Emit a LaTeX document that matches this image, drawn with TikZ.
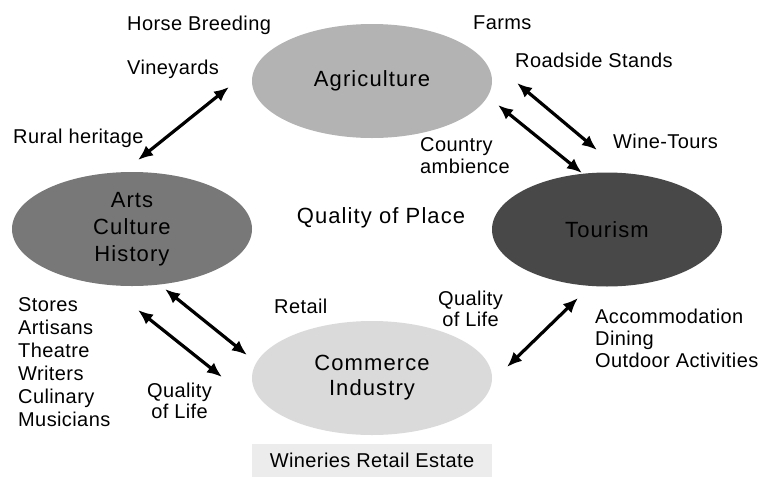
\documentclass[tikz,border=0pt]{standalone}
\usepackage{fontspec}
\setmainfont{Liberation Sans}[LetterSpace=2]
\newfontfamily\ellfont{Liberation Sans}[LetterSpace=5]
\usetikzlibrary{shapes.geometric,arrows.meta}
\definecolor{agrigray}{HTML}{B3B3B3}
\definecolor{artsgray}{HTML}{787878}
\definecolor{tourgray}{HTML}{484848}
\definecolor{commgray}{HTML}{DADADA}
\definecolor{boxgray}{HTML}{ECECEC}
\begin{document}
\begin{tikzpicture}[x=1pt,y=-1pt,
  sector/.style={ellipse,inner sep=0pt,minimum width=240pt,minimum height=114pt,
    align=center,font=\ellfont\fontsize{22}{27}\selectfont,text=black},
  lbl/.style={inner sep=0pt,font=\fontsize{20}{23}\selectfont,text=black},
  link/.style={line width=3.2pt,{Latex[length=15pt,width=12.5pt]}-{Latex[length=15pt,width=12.5pt]}}]
\useasboundingbox (0,0) rectangle (769,477);

% the four sectors
\node[sector,fill=agrigray] (agri) at (372,81) {Agriculture};
\node[sector,fill=artsgray] (arts) at (132,229) {Arts\\Culture\\History};
\node[sector,fill=tourgray,minimum width=230pt] (tour) at (607,229.5) {Tourism};
\node[sector,fill=commgray,font=\ellfont\fontsize{22}{25}\selectfont] (comm) at (372,378) {Commerce\\Industry};

% centre caption
\node[inner sep=0pt,font=\ellfont\fontsize{22}{26}\selectfont] (qop) at (381,218) {Quality of Place};

% shaded strip under Commerce
\node[fill=boxgray,minimum width=240pt,minimum height=33pt,inner sep=0pt,
  font=\fontsize{20}{23}\selectfont] (wine) at (372,460.5) {Wineries Retail Estate};

% labels
\node[lbl,anchor=base west] (horse) at (127,30) {Horse Breeding};
\node[lbl,anchor=base west] (vine) at (127,74) {Vineyards};
\node[lbl,anchor=base west] (rural) at (13,143) {Rural heritage};
\node[lbl,anchor=base west] (farms) at (473,29) {Farms};
\node[lbl,anchor=base west] (road) at (515,67) {Roadside Stands};
\node[lbl,anchor=base west] (wtour) at (613,148) {Wine-Tours};
\node[lbl,anchor=north west,align=left,font=\fontsize{20}{21.5}\selectfont] (country) at (420,137.5) {Country\\ambience};
\node[lbl,anchor=north west,align=left] (stores) at (18,297.5) {Stores\\Artisans\\Theatre\\Writers\\Culinary\\Musicians};
\node[lbl,anchor=base west] (retail) at (274,313) {Retail};
\node[lbl,anchor=north,align=center,font=\fontsize{20}{21.5}\selectfont] (qolL) at (179.5,382.5) {Quality\\of Life};
\node[lbl,anchor=north,align=center,font=\fontsize{20}{21.5}\selectfont] (qolR) at (470.5,290.5) {Quality\\of Life};
\node[lbl,anchor=north west,align=left,font=\fontsize{20}{22}\selectfont] (accom) at (595,308.5) {Accommodation\\Dining\\Outdoor Activities};

% arrow end points
\coordinate (a1) at (229,87);   \coordinate (b1) at (138,160);
\coordinate (a2) at (517,83);   \coordinate (b2) at (597,150);
\coordinate (a3) at (498,105);  \coordinate (b3) at (582,173);
\coordinate (a4) at (165,289);  \coordinate (b4) at (247,355);
\coordinate (a5) at (138,310);  \coordinate (b5) at (222,377);
\coordinate (a6) at (578,298);  \coordinate (b6) at (507,367);

% two-way links
\draw[link] (a1) -- (b1);
\draw[link] (a2) -- (b2);
\draw[link] (a3) -- (b3);
\draw[link] (a4) -- (b4);
\draw[link] (a5) -- (b5);
\draw[link] (a6) -- (b6);
\end{tikzpicture}
\end{document}
